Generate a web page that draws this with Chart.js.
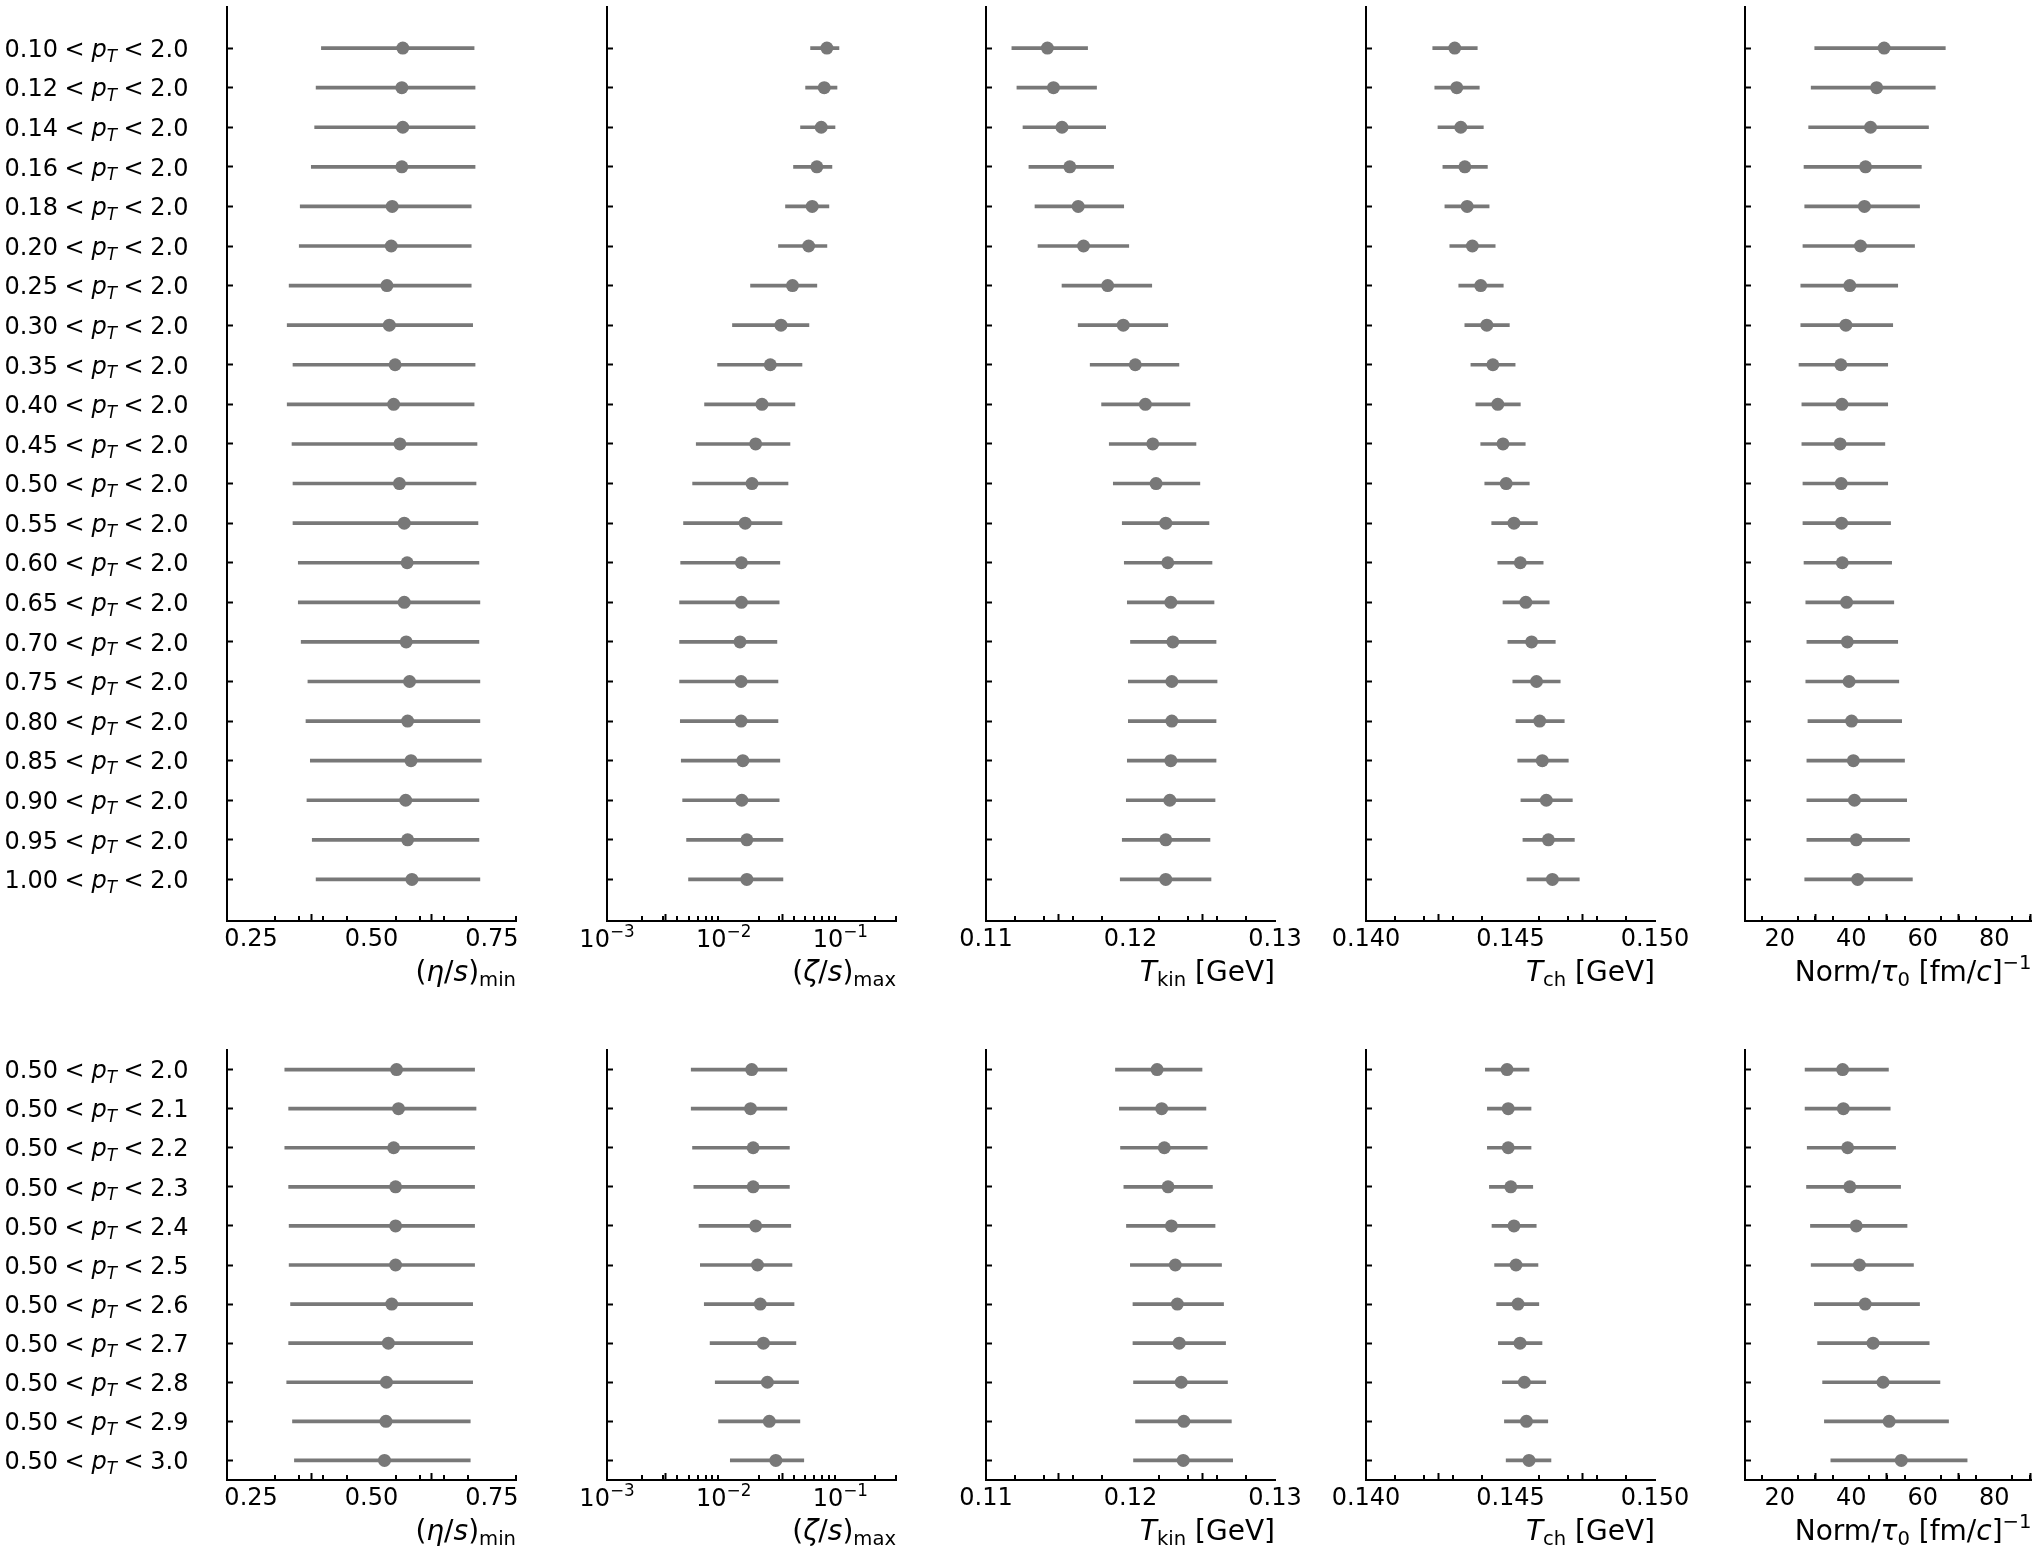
<!DOCTYPE html>
<html>
<head>
<meta charset="utf-8">
<script src="https://cdn.jsdelivr.net/npm/chart.js@4.4.1/dist/chart.umd.min.js"></script>
<style>
  body { margin: 0; background: #fff; }
  #wrap { position: relative; width: 2038px; height: 1558px; background: #fff; }
  #wrap canvas { position: absolute; }
</style>
</head>
<body>
<div id="wrap"></div>
<script>
// ---------------- data ----------------
// pT windows (rows)
const ptLowTop = ['0.10', '0.12', '0.14', '0.16', '0.18', '0.20', '0.25', '0.30', '0.35', '0.40', '0.45',
                  '0.50', '0.55', '0.60', '0.65', '0.70', '0.75', '0.80', '0.85', '0.90', '0.95', '1.00'];
const ptHighTop = ['2.0', '2.0', '2.0', '2.0', '2.0', '2.0', '2.0', '2.0', '2.0', '2.0', '2.0',
                   '2.0', '2.0', '2.0', '2.0', '2.0', '2.0', '2.0', '2.0', '2.0', '2.0', '2.0'];
const ptLowBottom = ['0.50', '0.50', '0.50', '0.50', '0.50', '0.50', '0.50', '0.50', '0.50', '0.50', '0.50'];
const ptHighBottom = ['2.0', '2.1', '2.2', '2.3', '2.4', '2.5', '2.6', '2.7', '2.8', '2.9', '3.0'];

// top row: varying lower pT cut
const etaTop   = [0.565, 0.563, 0.565, 0.563, 0.543, 0.541, 0.532, 0.537, 0.549, 0.546, 0.559, 0.558, 0.568, 0.574, 0.568, 0.572, 0.579, 0.575, 0.582, 0.571, 0.575, 0.584];
const etaTopLo = [0.396, 0.385, 0.382, 0.375, 0.352, 0.350, 0.329, 0.325, 0.337, 0.325, 0.335, 0.337, 0.337, 0.348, 0.348, 0.354, 0.368, 0.364, 0.373, 0.366, 0.377, 0.385];
const etaTopHi = [0.713, 0.715, 0.715, 0.715, 0.707, 0.707, 0.707, 0.710, 0.715, 0.713, 0.719, 0.717, 0.721, 0.723, 0.725, 0.723, 0.725, 0.725, 0.728, 0.723, 0.723, 0.725];

const zetaTop   = [0.0767, 0.0728, 0.0686, 0.0629, 0.0574, 0.0535, 0.0389, 0.0310, 0.0251, 0.0213, 0.0188, 0.0175, 0.0153, 0.0142, 0.0142, 0.0138, 0.0141, 0.0141, 0.0146, 0.0143, 0.0158, 0.0158];
const zetaTopLo = [0.0556, 0.0504, 0.0456, 0.0397, 0.0339, 0.0295, 0.0170, 0.0119, 0.00887, 0.00686, 0.00582, 0.00542, 0.00453, 0.00428, 0.00419, 0.00419, 0.00419, 0.00425, 0.00433, 0.00445, 0.00481, 0.00500];
const zetaTopHi = [0.0973, 0.0936, 0.0900, 0.0847, 0.0798, 0.0767, 0.0629, 0.0538, 0.0469, 0.0408, 0.0370, 0.0356, 0.0316, 0.0303, 0.0299, 0.0286, 0.0292, 0.0292, 0.0303, 0.0299, 0.0322, 0.0322];

const tkinTop   = [0.11425, 0.11467, 0.11526, 0.11580, 0.11638, 0.11675, 0.11842, 0.11950, 0.12033, 0.12103, 0.12154, 0.12177, 0.12244, 0.12258, 0.12279, 0.12293, 0.12286, 0.12286, 0.12279, 0.12272, 0.12244, 0.12244];
const tkinTopLo = [0.11179, 0.11214, 0.11256, 0.11297, 0.11339, 0.11360, 0.11526, 0.11638, 0.11721, 0.11800, 0.11853, 0.11881, 0.11943, 0.11957, 0.11978, 0.12000, 0.11985, 0.11985, 0.11978, 0.11971, 0.11943, 0.11929];
const tkinTopHi = [0.11703, 0.11765, 0.11828, 0.11883, 0.11953, 0.11988, 0.12147, 0.12258, 0.12335, 0.12411, 0.12453, 0.12480, 0.12543, 0.12564, 0.12578, 0.12592, 0.12599, 0.12592, 0.12592, 0.12585, 0.12550, 0.12557];

const tchTop   = [0.14307, 0.14314, 0.14328, 0.14342, 0.14350, 0.14368, 0.14397, 0.14418, 0.14439, 0.14456, 0.14474, 0.14485, 0.14512, 0.14534, 0.14553, 0.14573, 0.14590, 0.14601, 0.14610, 0.14624, 0.14631, 0.14645];
const tchTopLo = [0.14231, 0.14238, 0.14249, 0.14266, 0.14273, 0.14290, 0.14321, 0.14342, 0.14363, 0.14380, 0.14397, 0.14411, 0.14435, 0.14456, 0.14474, 0.14491, 0.14508, 0.14519, 0.14525, 0.14536, 0.14543, 0.14557];
const tchTopHi = [0.14385, 0.14392, 0.14406, 0.14420, 0.14426, 0.14447, 0.14475, 0.14496, 0.14516, 0.14534, 0.14551, 0.14565, 0.14593, 0.14613, 0.14634, 0.14655, 0.14672, 0.14686, 0.14700, 0.14714, 0.14721, 0.14738];

const normTop   = [49.2, 47.1, 45.4, 44.0, 43.7, 42.6, 39.6, 38.5, 37.1, 37.4, 36.9, 37.2, 37.3, 37.5, 38.7, 38.9, 39.4, 40.1, 40.6, 40.9, 41.4, 41.8];
const normTopLo = [29.8, 28.8, 28.1, 26.8, 27.0, 26.5, 25.9, 25.9, 25.4, 26.2, 26.2, 26.5, 26.5, 26.8, 27.3, 27.6, 27.3, 27.9, 27.6, 27.6, 27.6, 27.0];
const normTopHi = [66.3, 63.5, 61.6, 59.6, 59.1, 57.7, 53.0, 51.6, 50.2, 50.2, 49.4, 50.2, 51.0, 51.3, 51.9, 53.0, 53.3, 54.1, 54.9, 55.5, 56.3, 57.1];

// bottom row: varying upper pT cut
const etaBot   = [0.552, 0.556, 0.546, 0.550, 0.550, 0.550, 0.542, 0.535, 0.531, 0.530, 0.527];
const etaBotLo = [0.320, 0.328, 0.320, 0.328, 0.329, 0.329, 0.332, 0.328, 0.324, 0.336, 0.340];
const etaBotHi = [0.714, 0.717, 0.714, 0.714, 0.714, 0.714, 0.710, 0.710, 0.710, 0.705, 0.705];

const zetaBot   = [0.0174, 0.0170, 0.0179, 0.0179, 0.0188, 0.0195, 0.0206, 0.0219, 0.0237, 0.0246, 0.0280];
const zetaBotLo = [0.00527, 0.00527, 0.00541, 0.00555, 0.00615, 0.00631, 0.00682, 0.00765, 0.00847, 0.00904, 0.0114];
const zetaBotHi = [0.0348, 0.0348, 0.0366, 0.0366, 0.0376, 0.0385, 0.0401, 0.0416, 0.0438, 0.0450, 0.0486];

const tkinBot   = [0.12184, 0.12216, 0.12234, 0.12260, 0.12283, 0.12310, 0.12324, 0.12337, 0.12351, 0.12369, 0.12365];
const tkinBotLo = [0.11896, 0.11923, 0.11931, 0.11954, 0.11972, 0.11999, 0.12017, 0.12017, 0.12021, 0.12035, 0.12021];
const tkinBotHi = [0.12495, 0.12522, 0.12531, 0.12567, 0.12585, 0.12630, 0.12644, 0.12658, 0.12671, 0.12698, 0.12707];

const tchBot   = [0.14488, 0.14492, 0.14492, 0.14501, 0.14512, 0.14519, 0.14526, 0.14533, 0.14548, 0.14555, 0.14564];
const tchBotLo = [0.14413, 0.14420, 0.14420, 0.14427, 0.14436, 0.14445, 0.14452, 0.14458, 0.14472, 0.14479, 0.14485];
const tchBotHi = [0.14564, 0.14571, 0.14571, 0.14577, 0.14589, 0.14595, 0.14598, 0.14609, 0.14622, 0.14629, 0.14640];

const normBot   = [37.6, 37.8, 39.0, 39.6, 41.4, 42.3, 43.9, 46.1, 48.9, 50.6, 54.0];
const normBotLo = [27.1, 27.1, 27.7, 27.5, 28.6, 28.8, 29.7, 30.6, 32.0, 32.5, 34.3];
const normBotHi = [50.4, 50.9, 52.4, 53.8, 55.6, 57.4, 59.1, 61.8, 64.8, 67.2, 72.4];

// x ticks
const ticksEta = [0.25, 0.5, 0.75];
const tickLabelsEta = ['0.25', '0.50', '0.75'];
const minorEta = [0.3, 0.35, 0.4, 0.45, 0.55, 0.6, 0.65, 0.7, 0.8];
const ticksZeta = [0.001, 0.01, 0.1];
const tickLabelsZeta = [[['10', 'n'], ['\u22123', 'sup']], [['10', 'n'], ['\u22122', 'sup']], [['10', 'n'], ['\u22121', 'sup']]];
const minorZeta = [0.002, 0.003, 0.004, 0.005, 0.006, 0.007, 0.008, 0.009,
                   0.02, 0.03, 0.04, 0.05, 0.06, 0.07, 0.08, 0.09, 0.2, 0.3];
const ticksTkin = [0.11, 0.12, 0.13];
const tickLabelsTkin = ['0.11', '0.12', '0.13'];
const minorTkin = [0.112, 0.114, 0.116, 0.118, 0.122, 0.124, 0.126, 0.128];
const ticksTch = [0.140, 0.145, 0.150];
const tickLabelsTch = ['0.140', '0.145', '0.150'];
const minorTch = [0.141, 0.142, 0.143, 0.144, 0.146, 0.147, 0.148, 0.149];
const ticksNorm = [20, 40, 60, 80];
const tickLabelsNorm = ['20', '40', '60', '80'];
const minorNorm = [15, 25, 30, 35, 45, 50, 55, 65, 70, 75, 85, 90];

// axis titles: [text, style]  n=normal, i=italic, sub/sup=script
const titleEta = [['(', 'n'], ['\u03B7', 'i'], ['/', 'n'], ['s', 'i'], [')', 'n'], ['min', 'sub']];
const titleZeta = [['(', 'n'], ['\u03B6', 'i'], ['/', 'n'], ['s', 'i'], [')', 'n'], ['max', 'sub']];
const titleTkin = [['T', 'i'], ['kin', 'sub'], [' [GeV]', 'n']];
const titleTch = [['T', 'i'], ['ch', 'sub'], [' [GeV]', 'n']];
const titleNorm = [['Norm/', 'n'], ['\u03C4', 'i'], ['0', 'sub'], [' [fm/', 'n'], ['c', 'i'], [']', 'n'], ['\u22121', 'sup']];

// ---------------- layout ----------------
const GREY = '#787878';
const COL_LEFT = [227, 607, 986, 1366, 1745];
const PLOT_W = 289;
const ROW_BOX = [
  { top: 4, bottom: 921, canvasTop: 0, canvasH: 1000, yMin: -1.05, yMax: 22.05 },
  { top: 1050, bottom: 1480, canvasTop: 1020, canvasH: 538, yMin: -0.5, yMax: 10.5 }
];

const AXES = [
  { type: 'linear', min: 0.2, max: 0.8, major: ticksEta, labels: tickLabelsEta, minor: minorEta, title: titleEta },
  { type: 'logarithmic', min: 0.001, max: 0.3, major: ticksZeta, rich: tickLabelsZeta, minor: minorZeta, title: titleZeta },
  { type: 'linear', min: 0.11, max: 0.13, major: ticksTkin, labels: tickLabelsTkin, minor: minorTkin, title: titleTkin },
  { type: 'linear', min: 0.14, max: 0.15, major: ticksTch, labels: tickLabelsTch, minor: minorTch, title: titleTch },
  { type: 'linear', min: 10.3, max: 90.4, major: ticksNorm, labels: tickLabelsNorm, minor: minorNorm, title: titleNorm }
];

const SERIES = [
  [[etaTop, etaTopLo, etaTopHi], [zetaTop, zetaTopLo, zetaTopHi], [tkinTop, tkinTopLo, tkinTopHi],
   [tchTop, tchTopLo, tchTopHi], [normTop, normTopLo, normTopHi]],
  [[etaBot, etaBotLo, etaBotHi], [zetaBot, zetaBotLo, zetaBotHi], [tkinBot, tkinBotLo, tkinBotHi],
   [tchBot, tchBotLo, tchBotHi], [normBot, normBotLo, normBotHi]]
];

const rowLabel = (lo, hi) => [[lo, 'n'], ['<', 'rel'], ['p', 'i'], ['T', 'isub'], ['<', 'rel'], [hi, 'n']];
const rowLabelsTop = ptLowTop.map((lo, i) => rowLabel(lo, ptHighTop[i]));
const rowLabelsBottom = ptLowBottom.map((lo, i) => rowLabel(lo, ptHighBottom[i]));

Chart.defaults.font.family = "'DejaVu Sans'";
Chart.defaults.font.size = 24;
Chart.defaults.color = '#000';

// mathtext-like label: pieces laid out left to right
function drawRich(ctx, segs, x, y, size, align) {
  const parts = segs.map(([t, k]) => {
    const small = k === 'sub' || k === 'isub' || k === 'sup';
    const sz = small ? size * 0.7 : size;
    const it = k === 'i' || k === 'isub';
    const font = (it ? 'italic ' : '') + sz + "px 'DejaVu Sans'";
    ctx.font = font;
    const pad = k === 'rel' ? size * 0.278 : 0;
    const w = ctx.measureText(t).width + 2 * pad;
    const dy = (k === 'sub' || k === 'isub') ? size * 0.2 : (k === 'sup' ? -size * 0.42 : 0);
    return { t, font, w, pad, dy };
  });
  const total = parts.reduce((a, p) => a + p.w, 0);
  let cx = align === 'right' ? x - total : (align === 'center' ? x - total / 2 : x);
  ctx.textAlign = 'left';
  ctx.textBaseline = 'alphabetic';
  ctx.fillStyle = '#000';
  parts.forEach(p => {
    ctx.font = p.font;
    ctx.fillText(p.t, cx + p.pad, y + p.dy);
    cx += p.w;
  });
}

function minorTickPlugin(values) {
  return {
    id: 'minorTicks',
    afterDraw(chart) {
      const s = chart.scales.x, ctx = chart.ctx;
      ctx.save();
      ctx.fillStyle = '#000';
      values.forEach(v => {
        const px = Math.round(s.getPixelForValue(v));
        ctx.fillRect(px - 1, s.top - 5, 2, 6);
      });
      ctx.restore();
    }
  };
}

function labelPlugin(ax, rows) {
  return {
    id: 'richText',
    afterDraw(chart) {
      const ctx = chart.ctx, a = chart.chartArea;
      ctx.save();
      drawRich(ctx, ax.title, a.right, a.bottom + 59.5, 28, 'right');
      if (ax.rich) {
        const xs = chart.scales.x;
        ax.rich.forEach((segs, i) => drawRich(ctx, segs, xs.getPixelForValue(ax.major[i]), a.bottom + 25.75, 24, 'center'));
      }
      if (rows) {
        const ys = chart.scales.y;
        rows.forEach((segs, i) => drawRich(ctx, segs, a.left - 38.5, ys.getPixelForValue(i) + 8.75, 24, 'right'));
      }
      ctx.restore();
    }
  };
}

const wrap = document.getElementById('wrap');

function makePanel(r, c) {
  const box = ROW_BOX[r];
  const ax = AXES[c];
  const [mid, lo, hi] = SERIES[r][c];
  const rows = r === 0 ? rowLabelsTop : rowLabelsBottom;
  const padL = c === 0 ? COL_LEFT[0] : 40;
  const padR = c === 4 ? 2038 - COL_LEFT[4] - PLOT_W : 40;

  const cv = document.createElement('canvas');
  cv.width = padL + PLOT_W + padR;
  cv.height = box.canvasH;
  cv.style.left = (COL_LEFT[c] - padL) + 'px';
  cv.style.top = box.canvasTop + 'px';
  wrap.appendChild(cv);

  new Chart(cv, {
    type: 'bar',
    data: {
      datasets: [
        {
          type: 'scatter',
          data: mid.map((v, i) => ({ x: v, y: i })),
          pointRadius: 6.5,
          pointHoverRadius: 6.5,
          backgroundColor: GREY,
          borderWidth: 0,
          order: 0
        },
        {
          type: 'bar',
          indexAxis: 'y',
          data: lo.map((v, i) => ({ x: [v, hi[i]], y: i })),
          backgroundColor: GREY,
          borderWidth: 0,
          barThickness: 3,
          order: 1
        }
      ]
    },
    options: {
      responsive: false,
      animation: false,
      events: [],
      layout: { padding: { top: box.top - box.canvasTop, right: padR, left: 0, bottom: 0 } },
      plugins: { legend: { display: false }, tooltip: { enabled: false } },
      scales: {
        x: {
          type: ax.type,
          position: 'bottom',
          min: ax.min,
          max: ax.max,
          bounds: 'data',
          offset: false,
          afterBuildTicks: s => { s.ticks = ax.major.map(v => ({ value: v })); },
          afterFit: s => {
            s.height = box.canvasTop + box.canvasH - box.bottom;
            s.paddingLeft = 0;
            s.paddingRight = 0;
          },
          ticks: {
            autoSkip: false, maxRotation: 0, minRotation: 0, padding: 11,
            font: { size: 24 }, color: '#000',
            // log axis labels (10^n) are drawn by the richText plugin
            callback: (v, i) => (ax.labels ? ax.labels[i] : '')
          },
          grid: { drawOnChartArea: false, tickLength: -7, tickWidth: 2, tickColor: '#000', color: '#000' },
          border: { display: true, color: '#000', width: 2 }
        },
        y: {
          type: 'linear',
          reverse: true,
          min: box.yMin,
          max: box.yMax,
          bounds: 'data',
          offset: false,
          afterBuildTicks: s => { s.ticks = rows.map((_, i) => ({ value: i })); },
          afterFit: s => { s.width = padL; s.paddingTop = 0; s.paddingBottom = 0; },
          ticks: { display: false },
          grid: { offset: false, drawOnChartArea: false, tickLength: -6, tickWidth: 2, tickColor: '#000', color: '#000' },
          border: { display: true, color: '#000', width: 2 }
        }
      }
    },
    plugins: [minorTickPlugin(ax.minor), labelPlugin(ax, c === 0 ? rows : null)]
  });
}

for (let r = 0; r < 2; r++) {
  for (let c = 0; c < 5; c++) makePanel(r, c);
}
</script>
</body>
</html>
